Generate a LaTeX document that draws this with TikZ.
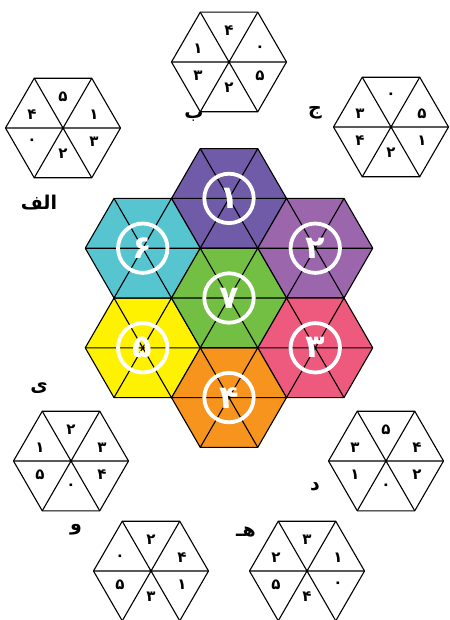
\documentclass[tikz,border=0pt]{standalone}
\usepackage{fontspec}
\newfontfamily\fa[Script=Arabic]{DejaVu Sans}
\TeXXeTstate=1
\definecolor{cone}{HTML}{6F5BA7}
\definecolor{ctwo}{HTML}{9B66AC}
\definecolor{cthree}{HTML}{EE5A7E}
\definecolor{cfour}{HTML}{F7941D}
\definecolor{cfive}{HTML}{FFF200}
\definecolor{csix}{HTML}{56C5D0}
\definecolor{cseven}{HTML}{72BF44}
\def\R{57.5}
\tikzset{
  hexline/.style={line width=1.1pt, draw=black, line join=round},
  num/.style={font=\fa\bfseries\fontsize{15}{15}\selectfont, inner sep=0pt},
  bignum/.style={font=\fa\bfseries\fontsize{32}{32}\selectfont, inner sep=0pt, text=white},
  lab/.style={font=\fa\bfseries\fontsize{19}{19}\selectfont, inner sep=0pt},
  ring/.style={draw=white, line width=3.8pt},
  pics/numhex/.style n args={6}{code={
    \draw[hexline, fill=white] (0:\R) -- (60:\R) -- (120:\R) -- (180:\R) -- (240:\R) -- (300:\R) -- cycle;
    \draw[hexline] (0:\R) -- (180:\R) (60:\R) -- (240:\R) (120:\R) -- (300:\R);
    \node[num] (-t)  at (0,-31)  {#1};
    \node[num] (-ur) at (31,-13) {#2};
    \node[num] (-lr) at (31,14)  {#3};
    \node[num] (-b)  at (0,26)   {#4};
    \node[num] (-ll) at (-31,14) {#5};
    \node[num] (-ul) at (-31,-13){#6};
  }},
  pics/colhex/.style n args={2}{code={
    \draw[hexline, fill=#1] (0:\R) -- (60:\R) -- (120:\R) -- (180:\R) -- (240:\R) -- (300:\R) -- cycle;
    \draw[hexline] (0:\R) -- (180:\R) (60:\R) -- (240:\R) (120:\R) -- (300:\R);
    \draw[ring] (0,0) circle (24.7);
    \node[bignum] (-n) at (0,0) {#2};
  }}
}
\begin{document}
\begin{tikzpicture}[x=1pt,y=-1pt]
\useasboundingbox (0,0) rectangle (449,620);
% coloured cluster
\pic (c1) at (229,198.4) {colhex={cone}{۱}};
\pic (c2) at (315.25,248.2) {colhex={ctwo}{۲}};
\pic (c3) at (315.25,347.8) {colhex={cthree}{۳}};
\pic (c4) at (229,397.6) {colhex={cfour}{۴}};
\pic (c5) at (142.75,347.8) {colhex={cfive}{۵}};
\pic (c6) at (142.75,248.2) {colhex={csix}{۶}};
\pic (c7) at (229,298) {colhex={cseven}{۷}};
% numbered hexagons
\pic (ha) at (63,128)  {numhex={۵}{۱}{۳}{۲}{۰}{۴}};
\pic (hb) at (229,62)  {numhex={۴}{۰}{۵}{۲}{۳}{۱}};
\pic (hj) at (391,127) {numhex={۰}{۵}{۱}{۲}{۴}{۳}};
\pic (hd) at (386,461) {numhex={۵}{۴}{۲}{۰}{۱}{۳}};
\pic (hh) at (307,571) {numhex={۳}{۱}{۰}{۴}{۵}{۲}};
\pic (hv) at (151,571) {numhex={۲}{۴}{۱}{۳}{۵}{۰}};
\pic (hy) at (71,461)  {numhex={۲}{۳}{۴}{۰}{۵}{۱}};
% labels
\node[lab] (lalef) at (39,203) {\beginR الف\endR};
\node[lab] (lbe) at (194,117) {\beginR ب\endR};
\node[lab] (ljim) at (315,113) {\beginR ج\endR};
\node[lab] (lye) at (39,388) {\beginR ی\endR};
\node[lab] (ldal) at (315,487) {\beginR د\endR};
\node[lab] (lhe) at (246,532) {\beginR هـ\endR};
\node[lab] (lvav) at (76,530) {\beginR و\endR};
\end{tikzpicture}
\end{document}
